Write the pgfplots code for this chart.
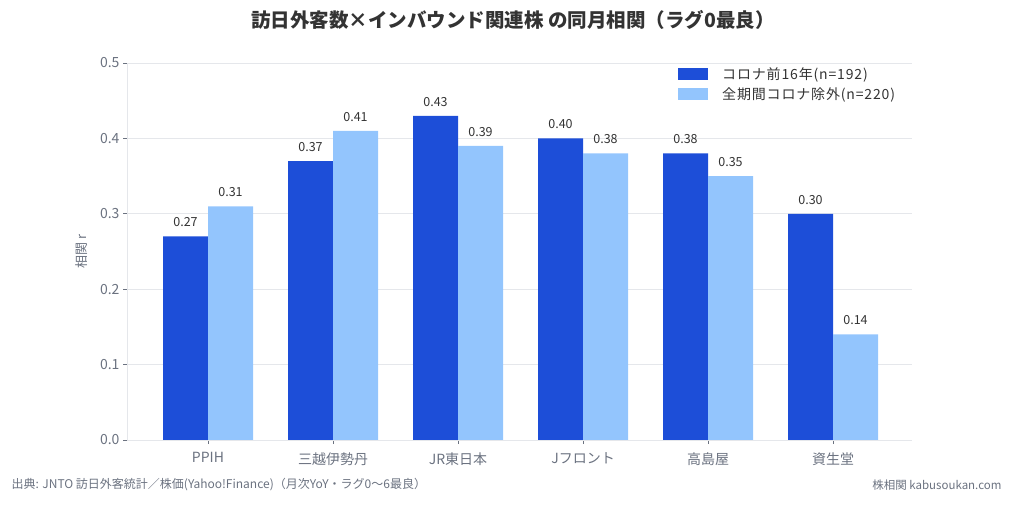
\documentclass[border=0pt]{standalone}
\usepackage{pgfplots}
\pgfplotsset{compat=1.18}
\usepackage{fontspec}
\setmainfont{Noto Sans CJK JP}
\definecolor{dblue}{HTML}{1D4ED8}
\definecolor{lblue}{HTML}{93C5FD}
\definecolor{tickgray}{HTML}{6B7280}
\definecolor{gridgray}{HTML}{E5E7EB}
\definecolor{titlec}{HTML}{333333}
\begin{document}
\begin{tikzpicture}
\useasboundingbox (0,0) rectangle (1013bp,508bp);
\node[anchor=center, font=\fontsize{19.5bp}{22bp}\selectfont\bfseries, text=titlec] at (513bp,488bp) {訪日外客数×インバウンド関連株 の同月相関（ラグ0最良）};
\begin{axis}[
  at={(127bp,68bp)}, anchor=south west,
  scale only axis, width=785bp, height=377bp,
  xmin=-0.648, xmax=5.632, ymin=0, ymax=0.5,
  ybar=0pt, bar width=45bp,
  xtick={0,1,2,3,4,5},
  xticklabels={PPIH,三越伊勢丹,JR東日本,Jフロント,高島屋,資生堂},
  ytick={0,0.1,0.2,0.3,0.4,0.5},
  yticklabel style={/pgf/number format/fixed,/pgf/number format/fixed zerofill,/pgf/number format/precision=1},
  /pgf/number format/assume math mode=true,
  ticklabel style={font=\fontsize{14bp}{16bp}\selectfont, text=tickgray},
  axis x line*=bottom, axis y line*=left,
  axis line style={gridgray, line width=1pt},
  tick style={tickgray, line width=0.8pt},
  tick align=outside, major tick length=4bp,
  ymajorgrids, grid style={gridgray, line width=0.7pt},
  ylabel={相関 r},
  ylabel style={font=\fontsize{13bp}{15bp}\selectfont, text=tickgray},
  every axis y label/.append style={at={(-36bp,0.5)}},
  xticklabel style={yshift=-5bp},
  nodes near coords,
  nodes near coords style={font=\fontsize{12.5bp}{14bp}\selectfont, text=titlec, /pgf/number format/fixed, /pgf/number format/fixed zerofill, /pgf/number format/precision=2, /pgf/number format/assume math mode=true, yshift=6bp},
  legend style={draw=none, fill=none, at={(0.985,1.0)}, anchor=north east, font=\fontsize{14bp}{16bp}\selectfont\addfontfeatures{LetterSpace=6}, text=titlec, row sep=3bp},
  legend cell align=left,
  legend image code/.code={\fill[#1] (0bp,-6bp) rectangle (30bp,6bp);},
]
\addplot[fill=dblue, draw=none] coordinates {(0,0.27) (1,0.37) (2,0.43) (3,0.40) (4,0.38) (5,0.30)};
\addplot[fill=lblue, draw=none] coordinates {(0,0.31) (1,0.41) (2,0.39) (3,0.38) (4,0.35) (5,0.14)};
\legend{\hspace{12bp}コロナ前16年(n=192),\hspace{12bp}全期間コロナ除外(n=220)}
\end{axis}
\node[anchor=west, font=\fontsize{12bp}{14bp}\selectfont, text=tickgray] at (8bp,23bp) {出典: JNTO 訪日外客統計／株価(Yahoo!Finance)（月次YoY・ラグ0〜6最良）};
\node[anchor=east, font=\fontsize{11.5bp}{13bp}\selectfont, text=tickgray] at (1005bp,23bp) {株相関 kabusoukan.com};
\end{tikzpicture}
\end{document}
